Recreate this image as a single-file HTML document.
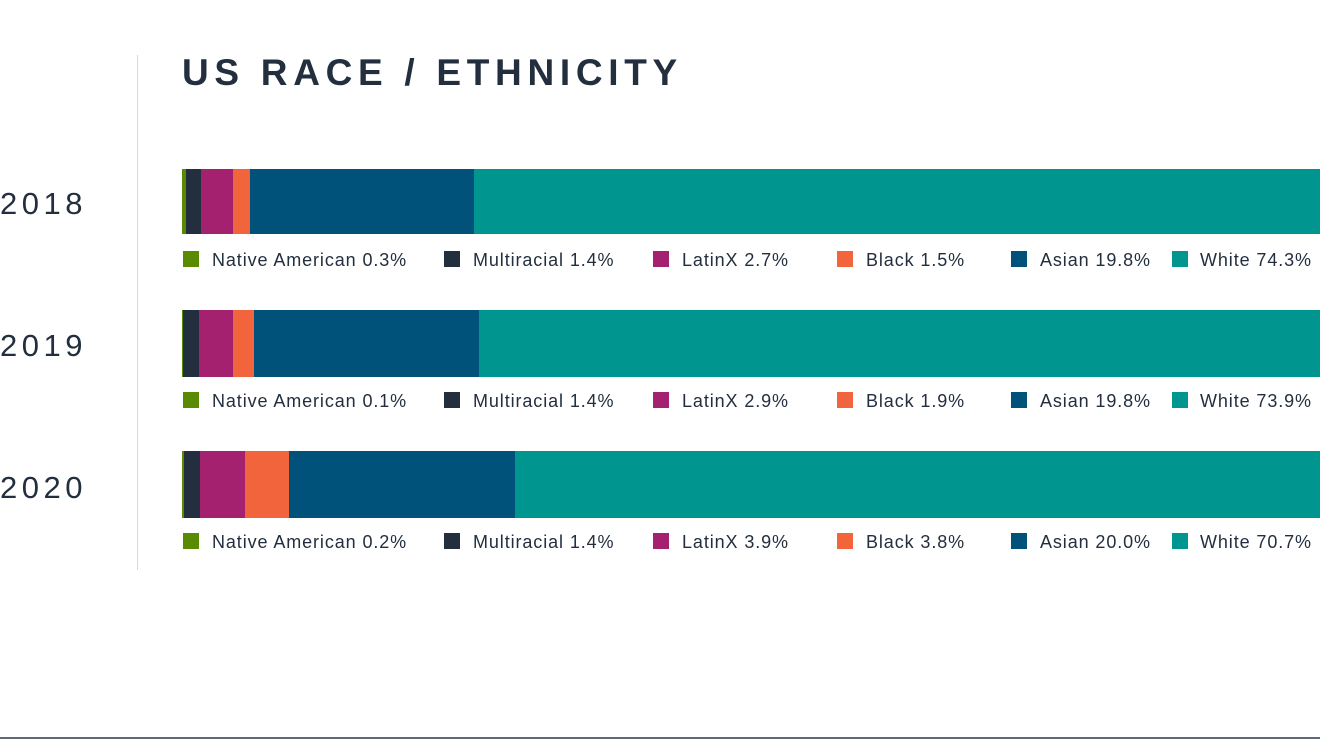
<!DOCTYPE html>
<html><head><style>
body{margin:0;width:1320px;height:743px;background:#fff;position:relative;overflow:hidden;font-family:"Liberation Sans",sans-serif;color:#232f3e}
.a{position:absolute}
.t{left:182px;top:52px;font-size:37px;font-weight:bold;letter-spacing:5.7px}
.y{left:0;font-size:31px;letter-spacing:4.5px}
.s{position:absolute;height:100%;top:0}
.sq{position:absolute;width:16px;height:16px}
.l{position:absolute;font-size:18px;letter-spacing:0.9px;line-height:20px;white-space:nowrap}
</style></head><body>
<div class="a" style="left:137px;top:55px;width:1px;height:515px;background:#d5d9dd"></div>
<div class="a" style="left:0;top:737px;width:1320px;height:2px;background:#5f6b7a"></div>
<div class="a t">US RACE / ETHNICITY</div>
<div class="a y" style="top:186px">2018</div>
<div class="a y" style="top:328px">2019</div>
<div class="a y" style="top:470px">2020</div>

<div class="a" style="left:182px;top:169px;width:1138px;height:65px">
<div class="s" style="left:0;width:4px;background:#5a8a00"></div>
<div class="s" style="left:4px;width:15px;background:#232f3e"></div>
<div class="s" style="left:19px;width:32px;background:#a3216e"></div>
<div class="s" style="left:51px;width:17px;background:#f2643c"></div>
<div class="s" style="left:68px;width:224px;background:#00527a"></div>
<div class="s" style="left:292px;width:846px;background:#00968f"></div>
</div>
<div class="a" style="left:182px;top:310px;width:1138px;height:67px">
<div class="s" style="left:0;width:1px;background:#5a8a00"></div>
<div class="s" style="left:1px;width:16px;background:#232f3e"></div>
<div class="s" style="left:17px;width:34px;background:#a3216e"></div>
<div class="s" style="left:51px;width:21px;background:#f2643c"></div>
<div class="s" style="left:72px;width:225px;background:#00527a"></div>
<div class="s" style="left:297px;width:841px;background:#00968f"></div>
</div>
<div class="a" style="left:182px;top:451px;width:1138px;height:67px">
<div class="s" style="left:0;width:2px;background:#5a8a00"></div>
<div class="s" style="left:2px;width:16px;background:#232f3e"></div>
<div class="s" style="left:18px;width:45px;background:#a3216e"></div>
<div class="s" style="left:63px;width:44px;background:#f2643c"></div>
<div class="s" style="left:107px;width:226px;background:#00527a"></div>
<div class="s" style="left:333px;width:805px;background:#00968f"></div>
</div>

<div class="a" style="left:0;top:251px;width:1320px;height:20px">
<div class="sq" style="left:183px;background:#5a8a00"></div><div class="l" style="left:212px;top:-1px">Native American 0.3%</div>
<div class="sq" style="left:444px;background:#232f3e"></div><div class="l" style="left:473px;top:-1px">Multiracial 1.4%</div>
<div class="sq" style="left:653px;background:#a3216e"></div><div class="l" style="left:682px;top:-1px">LatinX 2.7%</div>
<div class="sq" style="left:837px;background:#f2643c"></div><div class="l" style="left:866px;top:-1px">Black 1.5%</div>
<div class="sq" style="left:1011px;background:#00527a"></div><div class="l" style="left:1040px;top:-1px">Asian 19.8%</div>
<div class="sq" style="left:1172px;background:#00968f"></div><div class="l" style="left:1200px;top:-1px">White 74.3%</div>
</div>
<div class="a" style="left:0;top:392px;width:1320px;height:20px">
<div class="sq" style="left:183px;background:#5a8a00"></div><div class="l" style="left:212px;top:-1px">Native American 0.1%</div>
<div class="sq" style="left:444px;background:#232f3e"></div><div class="l" style="left:473px;top:-1px">Multiracial 1.4%</div>
<div class="sq" style="left:653px;background:#a3216e"></div><div class="l" style="left:682px;top:-1px">LatinX 2.9%</div>
<div class="sq" style="left:837px;background:#f2643c"></div><div class="l" style="left:866px;top:-1px">Black 1.9%</div>
<div class="sq" style="left:1011px;background:#00527a"></div><div class="l" style="left:1040px;top:-1px">Asian 19.8%</div>
<div class="sq" style="left:1172px;background:#00968f"></div><div class="l" style="left:1200px;top:-1px">White 73.9%</div>
</div>
<div class="a" style="left:0;top:533px;width:1320px;height:20px">
<div class="sq" style="left:183px;background:#5a8a00"></div><div class="l" style="left:212px;top:-1px">Native American 0.2%</div>
<div class="sq" style="left:444px;background:#232f3e"></div><div class="l" style="left:473px;top:-1px">Multiracial 1.4%</div>
<div class="sq" style="left:653px;background:#a3216e"></div><div class="l" style="left:682px;top:-1px">LatinX 3.9%</div>
<div class="sq" style="left:837px;background:#f2643c"></div><div class="l" style="left:866px;top:-1px">Black 3.8%</div>
<div class="sq" style="left:1011px;background:#00527a"></div><div class="l" style="left:1040px;top:-1px">Asian 20.0%</div>
<div class="sq" style="left:1172px;background:#00968f"></div><div class="l" style="left:1200px;top:-1px">White 70.7%</div>
</div>
</body></html>
